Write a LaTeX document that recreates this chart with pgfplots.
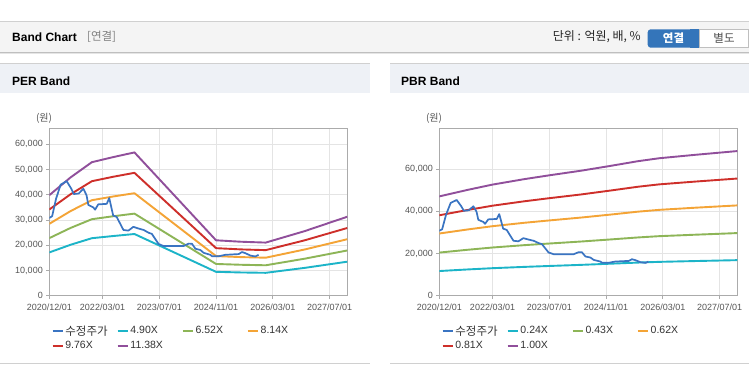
\documentclass[border=0pt]{standalone}
\usepackage{pgfplots}
\usepackage{pgfplotstable}
\pgfplotsset{compat=1.18}
\usepackage{fontspec}
\setmainfont{Liberation Sans}
\newfontfamily\kr{Noto Sans CJK KR}
\definecolor{cPrice}{HTML}{3A74C2}
\definecolor{cCyan}{HTML}{1CB4C8}
\definecolor{cGreen}{HTML}{8DB557}
\definecolor{cOrange}{HTML}{F4A436}
\definecolor{cRed}{HTML}{CE2F2A}
\definecolor{cPurple}{HTML}{904F9B}
\definecolor{gridc}{HTML}{E4E4E4}
\definecolor{framec}{HTML}{ABABAB}
\definecolor{tickc}{HTML}{555555}
\definecolor{hdrbg}{HTML}{F4F4F4}
\definecolor{panelbg}{HTML}{EEF1F6}
\definecolor{btnblue}{HTML}{3475BA}
\definecolor{linec}{HTML}{D0D0D0}
\definecolor{legc}{HTML}{333333}

\pgfplotstableread{
m price
0 30800
0.8 31500
1.9 38400
3.2 44000
4.9 45400
6.2 42400
6.9 40300
8.3 40500
9.6 42400
10.5 39800
11.0 36000
12.4 35000
12.9 34100
13.8 36200
16.2 36400
16.9 38700
18.0 31800
19.0 31200
20.9 26050
22.3 25800
23.7 27300
25.2 26600
26.6 26050
28.0 24950
28.9 24500
30.8 20500
32.2 19700
37.9 19700
39.3 20650
40.2 20600
41.2 18600
42.6 18100
43.5 17000
45.4 16200
45.9 15600
47.7 15600
49.6 16200
53.4 16500
54.3 17300
55.2 16900
56.7 15900
58.1 15550
59.0 16200
}\pricetable

\pgfplotstableread{
m c490 c652 c814 c976 c1138
0 17150 22820 28490 34160 39830
6 20190 26860 33540 40210 46890
12 22790 30320 37850 45380 52920
18 23650 31490 39320 47140 54930
24 24450 32530 40620 48700 56790
47 9460 12580 15710 18840 21960
54 9210 12260 15300 18350 21390
61 9070 12060 15060 18060 21050
72 11030 14670 18320 21960 25600
84 13480 17930 22390 26840 31300
}\pertable

\pgfplotstableread{
m c024 c043 c062 c081 c100
0 11700 20450 29500 38150 47100
8 12450 21790 31420 40660 50200
15 13050 22860 32970 42690 52700
24 13670 23980 34590 44790 55300
31 14100 24750 35700 46250 57100
40 14630 25700 37070 48030 59300
48 15160 26650 38430 49820 61500
56 15710 27630 39860 51680 63800
62 16050 28240 40720 52810 65200
72 16430 28920 41720 54110 66800
84 16860 29700 42830 55570 68600
}\pbrtable

\pgfplotsset{
  bandaxis/.style={
    scale only axis, width=298pt, height=167.4pt,
    xmin=0, xmax=84, ymin=0,
    xtick={0,15,31,47,63,79},
    xticklabels={2020/12/01,2022/03/01,2023/07/01,2024/11/01,2026/03/01,2027/07/01},
    grid=major, major grid style={gridc, line width=0.7pt},
    axis line style={framec, line width=0.9pt},
    tick style={framec, line width=0.7pt},
    tick align=outside, major tick length=3pt, tick pos=left,
    ticklabel style={font=\fontsize{9}{10}\selectfont, text=tickc},
    xticklabel style={yshift=-2pt},
    /pgf/number format/assume math mode=true,
    /pgf/number format/.cd, 1000 sep={,}, /pgfplots/.cd,
    scaled y ticks=false,
    every axis plot/.append style={line width=1.9pt, line join=round, no markers},
    legend columns=4,
    legend cell align=left,
    legend image code/.code={\draw[##1, line width=2.6pt] (0pt,0pt) -- (10pt,0pt);},
    legend style={at={(axis description cs:0.006,-0.168)}, anchor=north west,
      draw=none, fill=none, font=\fontsize{10.5}{12}\selectfont, text=legc,
      inner sep=0pt, row sep=2pt, column sep=0pt, nodes={inner sep=1.5pt}},
  }
}

\begin{document}
\begin{tikzpicture}
\path[use as bounding box] (0pt,0pt) rectangle (749pt,364pt);
\fill[white] (0pt,0pt) rectangle (749pt,364pt);
% header
\fill[hdrbg] (0pt,311pt) rectangle (749pt,342pt);
\draw[linec, line width=1pt] (0pt,342pt) -- (749pt,342pt);
\draw[black!25, line width=1pt] (0pt,311pt) -- (749pt,311pt);
\draw[black!10, line width=1pt] (0pt,310pt) -- (749pt,310pt);
\node[anchor=west, inner sep=0pt, font=\bfseries\fontsize{12}{14}\selectfont] at (12pt,327pt) {Band Chart};
\node[anchor=west, inner sep=0pt, font=\kr\fontsize{11.5}{13}\selectfont, text=black!50] at (87pt,327pt) {[연결]};
\node[anchor=east, inner sep=0pt, font=\kr\fontsize{12}{14}\selectfont, text=black!85] at (641pt,327pt) {단위 : 억원, 배, \%};
\fill[btnblue, rounded corners=3pt] (647.7pt,316.3pt) rectangle (702pt,334.7pt);
\fill[btnblue] (690pt,316.3pt) rectangle (699.3pt,334.7pt);
\draw[fill=white, draw=black!25, line width=0.8pt] (699.3pt,316.3pt) rectangle (748.5pt,334.7pt);
\node[inner sep=0pt, font=\kr\bfseries\fontsize{11.5}{13}\selectfont, text=white] at (673.5pt,325.5pt) {연결};
\node[inner sep=0pt, font=\kr\fontsize{11.5}{13}\selectfont, text=black!70] at (724pt,325.5pt) {별도};
% panels
\fill[panelbg] (0pt,271pt) rectangle (370pt,300pt);
\draw[linec, line width=1pt] (0pt,300pt) -- (370pt,300pt);
\draw[linec, line width=1pt] (0pt,1pt) -- (370pt,1pt);
\fill[panelbg] (390pt,271pt) rectangle (749pt,300pt);
\draw[linec, line width=1pt] (390pt,300pt) -- (749pt,300pt);
\draw[linec, line width=1pt] (390pt,1pt) -- (749pt,1pt);
\node[anchor=west, inner sep=0pt, font=\bfseries\fontsize{12}{14}\selectfont] at (12pt,282.5pt) {PER Band};
\node[anchor=west, inner sep=0pt, font=\bfseries\fontsize{12}{14}\selectfont] at (401pt,282.5pt) {PBR Band};
\node[inner sep=0pt, font=\kr\fontsize{10}{11}\selectfont, text=tickc] at (44pt,245.2pt) {(원)};
\node[inner sep=0pt, font=\kr\fontsize{10}{11}\selectfont, text=tickc] at (434pt,245.2pt) {(원)};

% PER axis
\begin{axis}[bandaxis, at={(49.3pt,68.3pt)}, anchor=south west,
  ymax=66350, ytick={0,10000,20000,30000,40000,50000,60000}]
\addlegendimage{cPrice}
\addlegendentry{\makebox[49.5pt][l]{\kr\fontsize{11.5}{12}\selectfont 수정주가}}
\addplot[cCyan] table[x=m,y=c490] {\pertable};
\addlegendentry{\makebox[49.5pt][l]{4.90X}}
\addplot[cGreen] table[x=m,y=c652] {\pertable};
\addlegendentry{\makebox[49.5pt][l]{6.52X}}
\addplot[cOrange] table[x=m,y=c814] {\pertable};
\addlegendentry{\makebox[49.5pt][l]{8.14X}}
\addplot[cRed] table[x=m,y=c976] {\pertable};
\addlegendentry{\makebox[49.5pt][l]{9.76X}}
\addplot[cPurple] table[x=m,y=c1138] {\pertable};
\addlegendentry{\makebox[49.5pt][l]{11.38X}}
\addplot[cPrice, line width=1.7pt, forget plot] table[x=m,y=price] {\pricetable};
\end{axis}

% PBR axis
\begin{axis}[bandaxis, at={(439.3pt,68.3pt)}, anchor=south west,
  ymax=79400, ytick={0,20000,40000,60000}]
\addlegendimage{cPrice}
\addlegendentry{\makebox[49.5pt][l]{\kr\fontsize{11.5}{12}\selectfont 수정주가}}
\addplot[cCyan] table[x=m,y=c024] {\pbrtable};
\addlegendentry{\makebox[49.5pt][l]{0.24X}}
\addplot[cGreen] table[x=m,y=c043] {\pbrtable};
\addlegendentry{\makebox[49.5pt][l]{0.43X}}
\addplot[cOrange] table[x=m,y=c062] {\pbrtable};
\addlegendentry{\makebox[49.5pt][l]{0.62X}}
\addplot[cRed] table[x=m,y=c081] {\pbrtable};
\addlegendentry{\makebox[49.5pt][l]{0.81X}}
\addplot[cPurple] table[x=m,y=c100] {\pbrtable};
\addlegendentry{\makebox[49.5pt][l]{1.00X}}
\addplot[cPrice, line width=1.7pt, forget plot] table[x=m,y=price] {\pricetable};
\end{axis}
\end{tikzpicture}
\end{document}
